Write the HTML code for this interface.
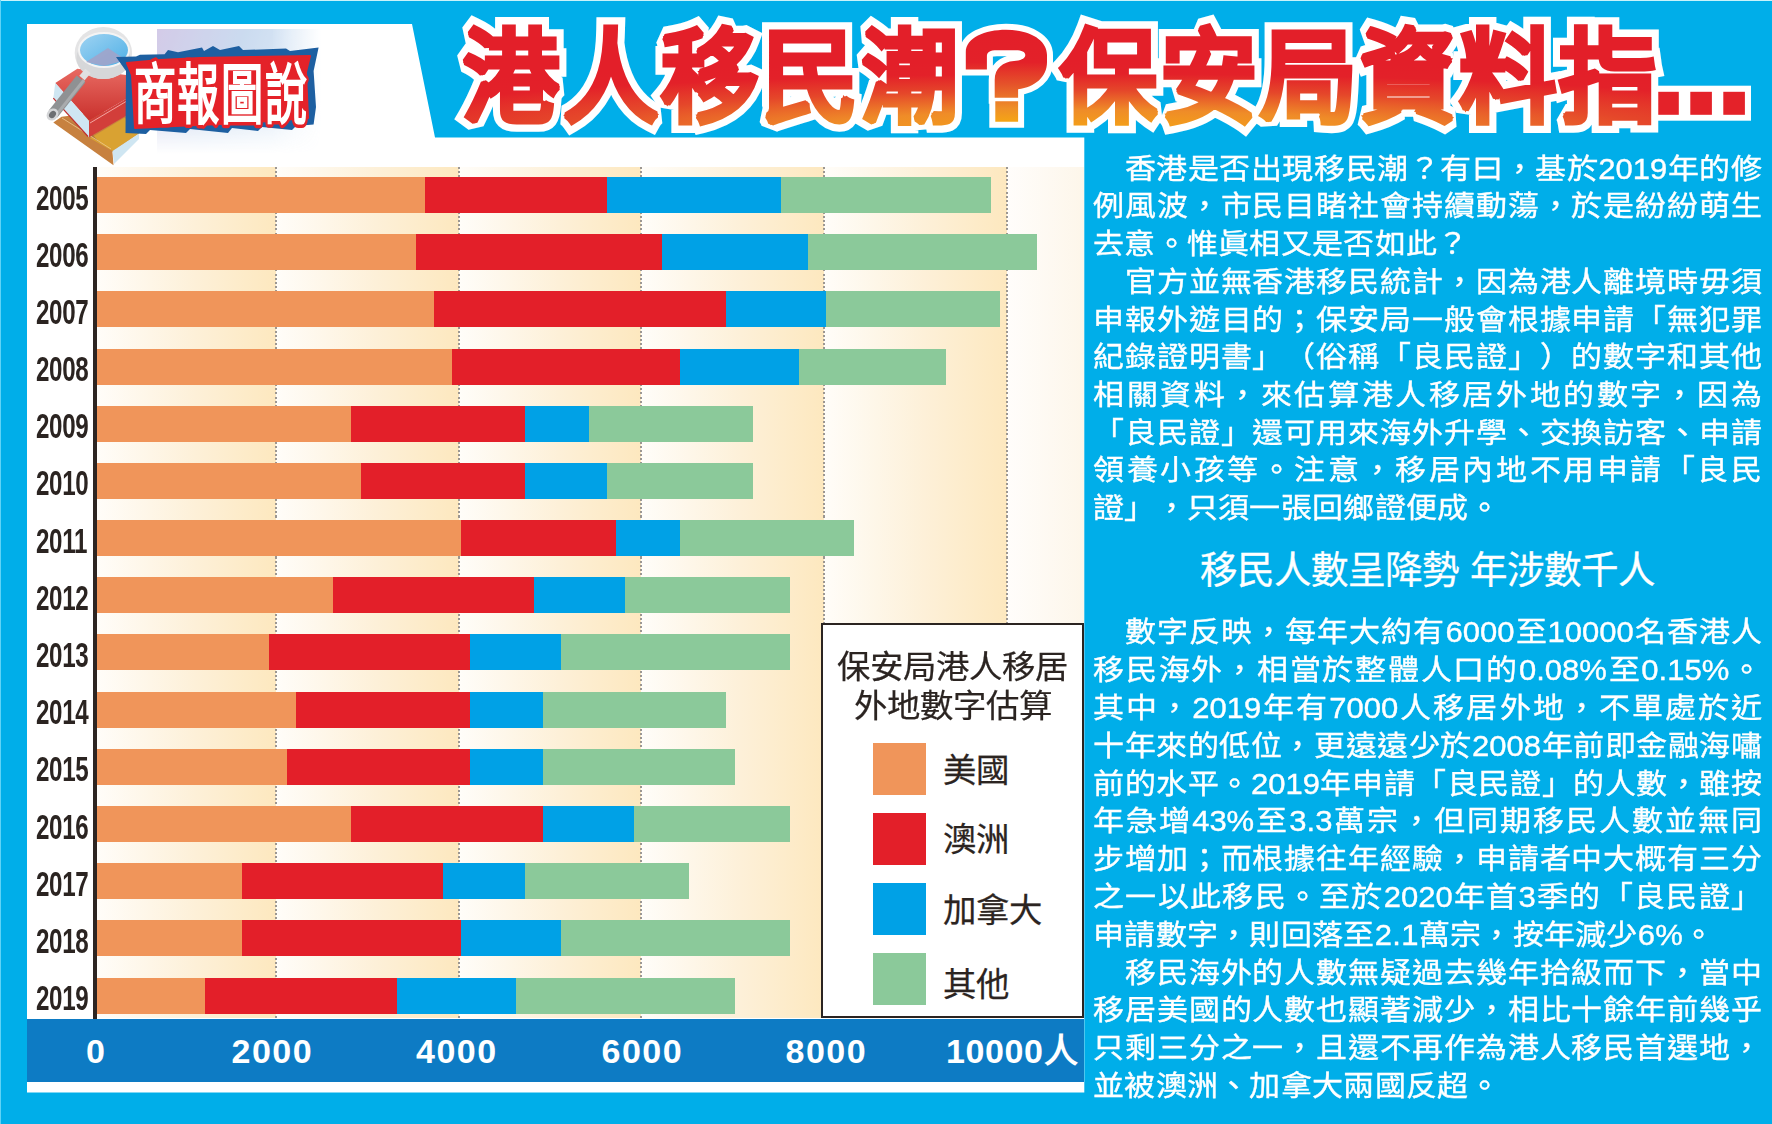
<!DOCTYPE html>
<html lang="zh-HK">
<head>
<meta charset="utf-8">
<style>
html,body{margin:0;padding:0;}
body{width:1772px;height:1124px;position:relative;overflow:hidden;background:#00aee9;font-family:"Liberation Sans",sans-serif;}
.abs{position:absolute;}
.bg{position:absolute;left:0;top:0;}
.band{position:absolute;top:167px;height:851px;}
.grid{position:absolute;top:167px;height:851px;width:2px;background:repeating-linear-gradient(180deg,#9c9792 0px,#9c9792 2px,transparent 2px,transparent 4.1px);}
.bar{position:absolute;height:36px;}
.yr{position:absolute;left:35.5px;width:86px;height:36px;line-height:36px;font-weight:bold;font-size:34.5px;color:#2b2421;transform:scaleX(0.70);transform-origin:left center;letter-spacing:-0.5px;margin-top:2.5px;}
.xl{position:absolute;top:1029px;height:44px;line-height:44px;font-weight:bold;font-size:34px;color:#fff;letter-spacing:1.5px;}
.ln{position:absolute;left:1093px;width:669px;height:38px;line-height:38px;font-size:31px;color:#fff;white-space:nowrap;-webkit-text-stroke:0.4px #fff;transform:scaleY(0.93);text-spacing-trim:space-all;margin-top:3.5px;}
.ln.j{text-align:justify;text-align-last:justify;}
.ln:not(.j){letter-spacing:0.3px;}
.legend{position:absolute;left:820.5px;top:623px;width:259.8px;height:391px;border:2px solid #2b2421;background:#fff;}
.lt{position:absolute;left:0;width:260px;text-align:center;font-size:33.4px;line-height:40px;color:#2b2421;transform:scaleY(0.94);-webkit-text-stroke:0.25px #2b2421;}
.sw{position:absolute;left:50px;width:53px;height:52px;}
.sl{position:absolute;left:120px;font-size:33.4px;line-height:52px;color:#2b2421;-webkit-text-stroke:0.25px #2b2421;}
</style>
</head>
<body>
<!-- background panels -->
<div class="abs" style="left:0;top:0;width:1772px;height:1px;background:#c8f3fb"></div>
<div class="abs" style="left:0;top:0;width:1px;height:1124px;background:#5fd3f6"></div>
<svg class="bg" width="1772" height="1124">
  <polygon points="27,24 412,24 435,137.5 1084.3,137.5 1084.3,1092.5 27,1092.5" fill="#ffffff"/>
</svg>

<!-- chart bands -->
<div class="band" style="left:97px;width:179px;background:linear-gradient(90deg,#fffdf9 0%,#fdf0d8 55%,#fde8bf 100%)"></div>
<div class="band" style="left:276px;width:183px;background:linear-gradient(90deg,#fffdf9 0%,#fdf0d8 55%,#fde8bf 100%)"></div>
<div class="band" style="left:459px;width:182px;background:linear-gradient(90deg,#fffdf9 0%,#fdf0d8 55%,#fde8bf 100%)"></div>
<div class="band" style="left:641px;width:183px;background:linear-gradient(90deg,#fffdf9 0%,#fdf0d8 55%,#fde8bf 100%)"></div>
<div class="band" style="left:824px;width:183px;background:linear-gradient(90deg,#fffdf9 0%,#fdf0d8 55%,#fde8bf 100%)"></div>
<div class="band" style="left:1007px;width:77.3px;background:linear-gradient(90deg,#fffdfb 0%,#fdf6ea 100%)"></div>
<div class="grid" style="left:274.6px"></div>
<div class="grid" style="left:457.5px"></div>
<div class="grid" style="left:640px"></div>
<div class="grid" style="left:823.2px"></div>
<div class="grid" style="left:1006.4px"></div>

<div class="bar" style="left:97.0px;top:177.0px;width:327.5px;background:#f0955a"></div>
<div class="bar" style="left:424.5px;top:177.0px;width:182.5px;background:#e31f29"></div>
<div class="bar" style="left:607.0px;top:177.0px;width:174.0px;background:#00a1e6"></div>
<div class="bar" style="left:781.0px;top:177.0px;width:210.0px;background:#8bc99a"></div>
<div class="yr" style="top:177.0px">2005</div>
<div class="bar" style="left:97.0px;top:234.2px;width:318.5px;background:#f0955a"></div>
<div class="bar" style="left:415.5px;top:234.2px;width:246.5px;background:#e31f29"></div>
<div class="bar" style="left:662.0px;top:234.2px;width:146.0px;background:#00a1e6"></div>
<div class="bar" style="left:808.0px;top:234.2px;width:229.0px;background:#8bc99a"></div>
<div class="yr" style="top:234.2px">2006</div>
<div class="bar" style="left:97.0px;top:291.4px;width:337.0px;background:#f0955a"></div>
<div class="bar" style="left:434.0px;top:291.4px;width:292.0px;background:#e31f29"></div>
<div class="bar" style="left:726.0px;top:291.4px;width:100.0px;background:#00a1e6"></div>
<div class="bar" style="left:826.0px;top:291.4px;width:174.0px;background:#8bc99a"></div>
<div class="yr" style="top:291.4px">2007</div>
<div class="bar" style="left:97.0px;top:348.5px;width:355.0px;background:#f0955a"></div>
<div class="bar" style="left:452.0px;top:348.5px;width:228.0px;background:#e31f29"></div>
<div class="bar" style="left:680.0px;top:348.5px;width:119.0px;background:#00a1e6"></div>
<div class="bar" style="left:799.0px;top:348.5px;width:147.0px;background:#8bc99a"></div>
<div class="yr" style="top:348.5px">2008</div>
<div class="bar" style="left:97.0px;top:405.7px;width:254.0px;background:#f0955a"></div>
<div class="bar" style="left:351.0px;top:405.7px;width:174.0px;background:#e31f29"></div>
<div class="bar" style="left:525.0px;top:405.7px;width:64.0px;background:#00a1e6"></div>
<div class="bar" style="left:589.0px;top:405.7px;width:164.0px;background:#8bc99a"></div>
<div class="yr" style="top:405.7px">2009</div>
<div class="bar" style="left:97.0px;top:462.9px;width:264.0px;background:#f0955a"></div>
<div class="bar" style="left:361.0px;top:462.9px;width:164.0px;background:#e31f29"></div>
<div class="bar" style="left:525.0px;top:462.9px;width:82.0px;background:#00a1e6"></div>
<div class="bar" style="left:607.0px;top:462.9px;width:146.0px;background:#8bc99a"></div>
<div class="yr" style="top:462.9px">2010</div>
<div class="bar" style="left:97.0px;top:520.1px;width:364.0px;background:#f0955a"></div>
<div class="bar" style="left:461.0px;top:520.1px;width:155.0px;background:#e31f29"></div>
<div class="bar" style="left:616.0px;top:520.1px;width:64.0px;background:#00a1e6"></div>
<div class="bar" style="left:680.0px;top:520.1px;width:174.0px;background:#8bc99a"></div>
<div class="yr" style="top:520.1px">2011</div>
<div class="bar" style="left:97.0px;top:577.3px;width:236.0px;background:#f0955a"></div>
<div class="bar" style="left:333.0px;top:577.3px;width:201.0px;background:#e31f29"></div>
<div class="bar" style="left:534.0px;top:577.3px;width:91.0px;background:#00a1e6"></div>
<div class="bar" style="left:625.0px;top:577.3px;width:165.0px;background:#8bc99a"></div>
<div class="yr" style="top:577.3px">2012</div>
<div class="bar" style="left:97.0px;top:634.4px;width:172.0px;background:#f0955a"></div>
<div class="bar" style="left:269.0px;top:634.4px;width:201.0px;background:#e31f29"></div>
<div class="bar" style="left:470.0px;top:634.4px;width:91.0px;background:#00a1e6"></div>
<div class="bar" style="left:561.0px;top:634.4px;width:229.0px;background:#8bc99a"></div>
<div class="yr" style="top:634.4px">2013</div>
<div class="bar" style="left:97.0px;top:691.6px;width:199.0px;background:#f0955a"></div>
<div class="bar" style="left:296.0px;top:691.6px;width:174.0px;background:#e31f29"></div>
<div class="bar" style="left:470.0px;top:691.6px;width:73.0px;background:#00a1e6"></div>
<div class="bar" style="left:543.0px;top:691.6px;width:183.0px;background:#8bc99a"></div>
<div class="yr" style="top:691.6px">2014</div>
<div class="bar" style="left:97.0px;top:748.8px;width:190.0px;background:#f0955a"></div>
<div class="bar" style="left:287.0px;top:748.8px;width:183.0px;background:#e31f29"></div>
<div class="bar" style="left:470.0px;top:748.8px;width:73.0px;background:#00a1e6"></div>
<div class="bar" style="left:543.0px;top:748.8px;width:192.0px;background:#8bc99a"></div>
<div class="yr" style="top:748.8px">2015</div>
<div class="bar" style="left:97.0px;top:806.0px;width:254.0px;background:#f0955a"></div>
<div class="bar" style="left:351.0px;top:806.0px;width:192.0px;background:#e31f29"></div>
<div class="bar" style="left:543.0px;top:806.0px;width:91.0px;background:#00a1e6"></div>
<div class="bar" style="left:634.0px;top:806.0px;width:156.0px;background:#8bc99a"></div>
<div class="yr" style="top:806.0px">2016</div>
<div class="bar" style="left:97.0px;top:863.2px;width:145.0px;background:#f0955a"></div>
<div class="bar" style="left:242.0px;top:863.2px;width:201.0px;background:#e31f29"></div>
<div class="bar" style="left:443.0px;top:863.2px;width:82.0px;background:#00a1e6"></div>
<div class="bar" style="left:525.0px;top:863.2px;width:164.0px;background:#8bc99a"></div>
<div class="yr" style="top:863.2px">2017</div>
<div class="bar" style="left:97.0px;top:920.3px;width:145.0px;background:#f0955a"></div>
<div class="bar" style="left:242.0px;top:920.3px;width:219.0px;background:#e31f29"></div>
<div class="bar" style="left:461.0px;top:920.3px;width:100.0px;background:#00a1e6"></div>
<div class="bar" style="left:561.0px;top:920.3px;width:229.0px;background:#8bc99a"></div>
<div class="yr" style="top:920.3px">2018</div>
<div class="bar" style="left:97.0px;top:977.5px;width:108.0px;background:#f0955a"></div>
<div class="bar" style="left:205.0px;top:977.5px;width:192.0px;background:#e31f29"></div>
<div class="bar" style="left:397.0px;top:977.5px;width:119.0px;background:#00a1e6"></div>
<div class="bar" style="left:516.0px;top:977.5px;width:219.0px;background:#8bc99a"></div>
<div class="yr" style="top:977.5px">2019</div>

<!-- y axis -->
<div class="abs" style="left:93px;top:167px;width:4px;height:852px;background:#2d2522"></div>

<!-- x axis -->
<div class="abs" style="left:27px;top:1018.5px;width:1057.3px;height:63px;background:#0d7bc4"></div>
<div class="xl" style="left:86px">0</div>
<div class="xl" style="left:231.5px">2000</div>
<div class="xl" style="left:416px">4000</div>
<div class="xl" style="left:601.5px">6000</div>
<div class="xl" style="left:785.5px">8000</div>
<div class="xl" style="left:946px;letter-spacing:0.6px">10000人</div>

<!-- legend -->
<div class="legend">
  <div class="lt" style="top:22.5px">保安局港人移居</div>
  <div class="lt" style="top:62px">外地數字估算</div>
  <div class="sw" style="top:117.5px;background:#f0955a"></div>
  <div class="sw" style="top:187.7px;background:#e31f29"></div>
  <div class="sw" style="top:257.7px;background:#00a1e6"></div>
  <div class="sw" style="top:328px;background:#8bc99a"></div>
  <div class="sl" style="top:120px">美國</div>
  <div class="sl" style="top:189px">澳洲</div>
  <div class="sl" style="top:259.5px">加拿大</div>
  <div class="sl" style="top:333.5px">其他</div>
</div>

<!-- right text -->
<div class="ln j" style="top:147.2px">　香港是否出現移民潮？有曰，基於2019年的修</div>
<div class="ln j" style="top:184.9px">例風波，市民目睹社會持續動蕩，於是紛紛萌生</div>
<div class="ln" style="top:222.6px">去意。惟眞相又是否如此？</div>
<div class="ln j" style="top:260.3px">　官方並無香港移民統計，因為港人離境時毋須</div>
<div class="ln j" style="top:298.0px">申報外遊目的；保安局一般會根據申請「無犯罪</div>
<div class="ln j" style="top:335.6px">紀錄證明書」（俗稱「良民證」）的數字和其他</div>
<div class="ln j" style="top:373.3px">相關資料，來估算港人移居外地的數字，因為</div>
<div class="ln j" style="top:411.0px">「良民證」還可用來海外升學、交換訪客、申請</div>
<div class="ln j" style="top:448.7px">領養小孩等。注意，移居內地不用申請「良民</div>
<div class="ln" style="top:486.4px">證」，只須一張回鄉證便成。</div>
<div class="ln j" style="top:610.8px">　數字反映，每年大約有6000至10000名香港人</div>
<div class="ln j" style="top:648.6px">移民海外，相當於整體人口的0.08%至0.15%。</div>
<div class="ln j" style="top:686.4px">其中，2019年有7000人移居外地，不單處於近</div>
<div class="ln j" style="top:724.2px">十年來的低位，更遠遠少於2008年前即金融海嘯</div>
<div class="ln j" style="top:762.0px">前的水平。2019年申請「良民證」的人數，雖按</div>
<div class="ln j" style="top:799.8px">年急增43%至3.3萬宗，但同期移民人數並無同</div>
<div class="ln j" style="top:837.6px">步增加；而根據往年經驗，申請者中大概有三分</div>
<div class="ln j" style="top:875.4px">之一以此移民。至於2020年首3季的「良民證」</div>
<div class="ln" style="top:913.2px">申請數字，則回落至2.1萬宗，按年減少6%。</div>
<div class="ln j" style="top:951.0px">　移民海外的人數無疑過去幾年拾級而下，當中</div>
<div class="ln j" style="top:988.8px">移居美國的人數也顯著減少，相比十餘年前幾乎</div>
<div class="ln j" style="top:1026.6px">只剩三分之一，且還不再作為港人移民首選地，</div>
<div class="ln" style="top:1064.4px">並被澳洲、加拿大兩國反超。</div>
<div class="abs" style="left:1093px;top:550px;width:669px;text-align:center;font-size:37.5px;line-height:40px;color:#fff;-webkit-text-stroke:0.3px #fff;">移民人數呈降勢 年涉數千人</div>

<!-- logo -->
<svg class="abs" style="left:0;top:0" width="440" height="170">
  <defs>
    <linearGradient id="ph" x1="0" y1="0" x2="1" y2="0.3">
      <stop offset="0" stop-color="#b7a9d9"/>
      <stop offset="0.5" stop-color="#a9c4e6"/>
      <stop offset="1" stop-color="#cfe3f5"/>
    </linearGradient>
    <linearGradient id="phmx" x1="0" y1="0" x2="1" y2="0">
      <stop offset="0" stop-color="#fff"/>
      <stop offset="0.7" stop-color="#fff"/>
      <stop offset="1" stop-color="#000"/>
    </linearGradient>
    <linearGradient id="phmy" x1="0" y1="0" x2="0" y2="1">
      <stop offset="0" stop-color="#fff"/>
      <stop offset="0.55" stop-color="#fff"/>
      <stop offset="1" stop-color="#000"/>
    </linearGradient>
    <mask id="phmask2"><rect x="157" y="29" width="165" height="125" fill="url(#phmy)"/></mask>
    <mask id="phmask"><g mask="url(#phmask2)"><rect x="157" y="29" width="165" height="125" fill="url(#phmx)"/></g></mask>
    <linearGradient id="lens" x1="0" y1="0" x2="1" y2="1">
      <stop offset="0" stop-color="#9fd3f2"/>
      <stop offset="1" stop-color="#4fb0e6"/>
    </linearGradient>
    <linearGradient id="rb" x1="0" y1="0" x2="0" y2="1">
      <stop offset="0" stop-color="#e86a62"/>
      <stop offset="1" stop-color="#c9302c"/>
    </linearGradient>
  </defs>
  <g mask="url(#phmask)" opacity="0.6">
    <rect x="157" y="29" width="165" height="125" fill="url(#ph)"/>
  </g>
  <!-- orange book -->
  <polygon points="53.3,122.6 61.6,116.8 98,112 126,113 139,133.4 112.5,152 113.5,165.2" fill="#c7813f"/>
  <polygon points="90,138.3 124.3,117.7 139,126 139,133.4 112.5,151" fill="#d9a232"/>
  <polygon points="61.6,116.8 92,134 100,143 80,128" fill="#9c6a3a" opacity="0.7"/>
  <polygon points="112.5,151 139,133.4 139,139 114,164" fill="#cfe6f2"/>
  <line x1="62" y1="118" x2="111" y2="149" stroke="#f0c890" stroke-width="0.8"/>
  <!-- red book -->
  <polygon points="55.3,83 77.3,68.8 126,75 126,99 89,120.7" fill="url(#rb)"/>
  <polygon points="89,120.7 126,99 126,115.8 89,137.3" fill="#d23e3a"/>
  <polygon points="55.3,83 89,120.7 89,137.3 53.3,98.2" fill="#cfe6f2"/>
  <line x1="53.3" y1="98.2" x2="88" y2="136.5" stroke="#c03030" stroke-width="1.2"/>
  <line x1="90" y1="123" x2="126" y2="101.5" stroke="#f5b0aa" stroke-width="0.9"/>
  <!-- magnifier -->
  <ellipse cx="103.4" cy="53" rx="28.7" ry="26" fill="#e4e4e5"/>
  <ellipse cx="103.4" cy="58" rx="27" ry="21" fill="#d6d7d9"/>
  <ellipse cx="104" cy="50" rx="26" ry="18" fill="#f4f4f4"/>
  <ellipse cx="104" cy="50" rx="24" ry="16" fill="url(#lens)"/>
  <polygon points="86,62 108,48 126,60 104,66" fill="#a3a2c8" opacity="0.85"/>
  <line x1="88" y1="71" x2="82" y2="78" stroke="#e0e0e2" stroke-width="7"/>
  <line x1="81" y1="79" x2="53" y2="114" stroke="#8f9193" stroke-width="11" stroke-linecap="butt"/>
  <line x1="84" y1="80" x2="57" y2="114" stroke="#a9abad" stroke-width="3"/>
  <ellipse cx="52.5" cy="114.5" rx="6.5" ry="5.5" fill="#d4d5d7" transform="rotate(-50 52.5 114.5)"/>
  <ellipse cx="52.5" cy="114.5" rx="4" ry="3" fill="#6d6f72" transform="rotate(-50 52.5 114.5)"/>
  <!-- badge -->
  <polygon points="116,57 136,56.5 140,54.8 164.6,54.2 168,50 178,52.3 202,47.4 204,51 213,46 220,50 239,46 243,50 286,48.6 290,51 318.6,47.4 313.6,71 316,107 313.6,124.4 296,126 292,130 262,127 258,131 232,128 228,133 190,129 186,133 150,130 146,134 125.5,133 126,71" fill="#1d5fa1"/>
  <polygon points="127,63 160,60 200,58 250,57 310,56 306,72 308,118 270,121 220,124 175,126 135,128 132,75" fill="#e42229" stroke="#e42229" stroke-width="2" stroke-linejoin="round"/>
  <g transform="translate(133.5,118) scale(0.64,1)">
    <text x="0 68.5 137 205.5" y="0" font-size="66" font-weight="bold" fill="#fff" stroke="#e42229" stroke-width="7" paint-order="stroke" stroke-linejoin="round">商報圖說</text>
  </g>
</svg>

<!-- title -->
<svg class="abs" style="left:0;top:0" width="1772" height="140">
  <defs>
    <radialGradient id="tg" gradientUnits="userSpaceOnUse" cx="638" cy="16.3" r="66.7" gradientTransform="translate(638,16.3) scale(14.3,1) translate(-638,-16.3)">
      <stop offset="0" stop-color="#f5a514"/>
      <stop offset="0.3" stop-color="#ef8c28"/>
      <stop offset="0.58" stop-color="#e5472a"/>
      <stop offset="0.82" stop-color="#e32129"/>
      <stop offset="1" stop-color="#e31f29"/>
    </radialGradient>
    <linearGradient id="qg" x1="0" y1="0" x2="0" y2="1">
      <stop offset="0" stop-color="#e31f29"/>
      <stop offset="0.35" stop-color="#e32129"/>
      <stop offset="0.6" stop-color="#e5552a"/>
      <stop offset="0.85" stop-color="#ee8f28"/>
      <stop offset="1" stop-color="#f5a514"/>
    </linearGradient>
  </defs>
  <rect x="1651" y="85.7" width="100" height="35" fill="#fff"/>
  <rect x="1657.2" y="91.8" width="21.6" height="23" fill="#e42229"/>
  <rect x="1690.3" y="91.8" width="21.6" height="23" fill="#e42229"/>
  <rect x="1723.3" y="91.8" width="21.6" height="23" fill="#e42229"/>
  <linearGradient id="qg2" gradientUnits="userSpaceOnUse" x1="0" y1="30" x2="0" y2="122">
      <stop offset="0" stop-color="#e31f29"/>
      <stop offset="0.35" stop-color="#e32129"/>
      <stop offset="0.6" stop-color="#e5552a"/>
      <stop offset="0.85" stop-color="#ee8f28"/>
      <stop offset="1" stop-color="#f5a514"/>
  </linearGradient>
  <path d="M965.8,69.5 L965.8,52 C965.8,38 985,29.8 1006,29.8 C1030,29.8 1047,40 1047,55 L1047,62 C1047,77 1035,87 1018.1,89.3 L1018.1,97.7 L994.7,97.7 L994.7,80 C994.7,68 1003,62 1014,61 C1022,60.5 1025.3,58 1025.3,55 C1025.3,51.5 1021,50.2 1015,50.2 L997,50.2 C990,50.2 986.9,52 986.9,56 L986.9,69.5 Z M995.3,101.3 H1018.1 V121.7 H995.3 Z" fill="url(#qg2)" stroke="#fff" stroke-width="12" paint-order="stroke" stroke-linejoin="miter"/>
  <g font-size="97.5" font-weight="bold">
    <g transform="translate(462,114.2) scale(1,1.05)">
      <text x="0.0 99.7 199.4 299.1 398.8 598.2 697.9 797.6 897.3 997.0 1096.7" y="0" fill="#fff" stroke="#fff" stroke-width="17.5" stroke-linejoin="miter" stroke-miterlimit="1.5">港人移民潮保安局資料指</text>
    </g>

    <g transform="translate(462,114.2) scale(1,1.05)">
      <text x="0.0 99.7 199.4 299.1 398.8 598.2 697.9 797.6 897.3 997.0 1096.7" y="0" fill="url(#tg)" stroke="url(#tg)" stroke-width="3.5" stroke-linejoin="miter" stroke-miterlimit="1.5">港人移民潮保安局資料指</text>
    </g>

  </g>
</svg>

</body>
</html>
